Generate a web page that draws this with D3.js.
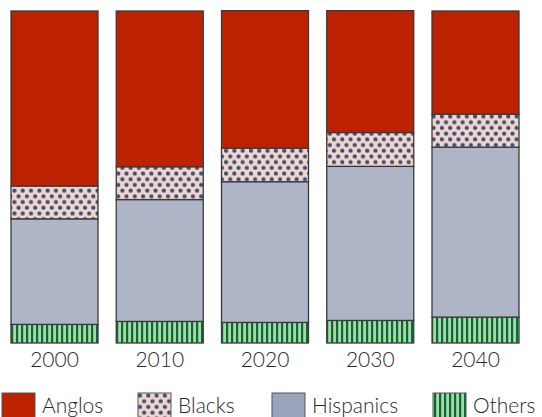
<!DOCTYPE html>
<html>
<head>
<meta charset="utf-8">
<script src="https://cdn.jsdelivr.net/npm/d3@7"></script>
<style>
  html, body { margin: 0; padding: 0; background: #fff; }
  svg { display: block; }
  text { font-family: "Lato", "Noto Sans", sans-serif; font-weight: 300; fill: #2a2a2a; }
</style>
</head>
<body>
<svg id="chart" width="542" height="417"></svg>
<script>
const years = ["2000", "2010", "2020", "2030", "2040"];
const groups = ["Others", "Hispanics", "Blacks", "Anglos"];
const legendOrder = ["Anglos", "Blacks", "Hispanics", "Others"];
const anglos    = [52.7, 46.9, 41.4, 36.7, 31.1];
const blacks    = [9.9, 9.9, 10.1, 10.2, 9.9];
const hispanics = [31.8, 36.7, 42.4, 46.4, 51.2];
const others    = [5.6, 6.5, 6.2, 6.8, 7.8];

const svg = d3.select("#chart");

const defs = svg.append("defs");
// dots pattern
const pd = defs.append("pattern").attr("id", "dots").attr("patternUnits", "userSpaceOnUse")
  .attr("width", 8.3).attr("height", 11.4);
pd.append("rect").attr("width", 8.3).attr("height", 11.4).attr("fill", "#f3d5c9");
pd.append("circle").attr("cx", 2).attr("cy", 2.5).attr("r", 2.1).attr("fill", "#34507f");
pd.append("circle").attr("cx", 6.15).attr("cy", 8.2).attr("r", 2.1).attr("fill", "#34507f");
// stripes pattern
const ps = defs.append("pattern").attr("id", "stripes").attr("patternUnits", "userSpaceOnUse")
  .attr("width", 5).attr("height", 10);
ps.append("rect").attr("width", 5).attr("height", 10).attr("fill", "#a9d9a1");
ps.append("rect").attr("x", 1).attr("width", 2.2).attr("height", 10).attr("fill", "#066a3e");

const fills = {
  Anglos: "#bd2200",
  Blacks: "url(#dots)",
  Hispanics: "#adb5c6",
  Others: "url(#stripes)"
};
const legendFills = {
  Anglos: "#bd2200",
  Blacks: "url(#dots)",
  Hispanics: "#9aa5bb",
  Others: "url(#stripes)"
};

const valuesBy = { Anglos: anglos, Blacks: blacks, Hispanics: hispanics, Others: others };
const table = years.map((y, i) => {
  const r = { year: y };
  groups.forEach(g => r[g] = valuesBy[g][i]);
  return r;
});

const x = d3.scaleBand().domain(years).range([11, 519]).paddingInner(0.1734).paddingOuter(0);
const yScale = d3.scaleLinear().domain([0, 100]).range([343, 11]);

const series = d3.stack().keys(groups)(table);

const layer = svg.append("g").selectAll("g").data(series).join("g")
  .attr("fill", d => fills[d.key]);

layer.selectAll("rect").data(d => d).join("rect")
  .attr("x", d => x(d.data.year))
  .attr("width", x.bandwidth())
  .attr("y", d => yScale(d[1]))
  .attr("height", d => yScale(d[0]) - yScale(d[1]))
  .attr("stroke", "#3a3a3a")
  .attr("stroke-width", 1.3);

// x axis labels
const axis = d3.axisBottom(x).tickSize(0).tickPadding(6);
const ax = svg.append("g").attr("transform", "translate(0,346)").call(axis);
ax.select(".domain").remove();
ax.selectAll("text").style("font-size", "21px").attr("fill", "#2a2a2a")
  .style("font-family", "Lato, 'Noto Sans', sans-serif").style("font-weight", "300");

// legend
const legendX = [2, 138, 272, 433];
const lg = svg.append("g");
legendOrder.forEach((k, i) => {
  const g = lg.append("g").attr("transform", `translate(${legendX[i]},393)`);
  g.append("rect").attr("width", 33).attr("height", 30)
    .attr("fill", legendFills[k]).attr("stroke", "#555").attr("stroke-width", 1);
  g.append("text").attr("x", 40).attr("y", 20).style("font-size", "21px").text(k);
});
</script>
</body>
</html>
